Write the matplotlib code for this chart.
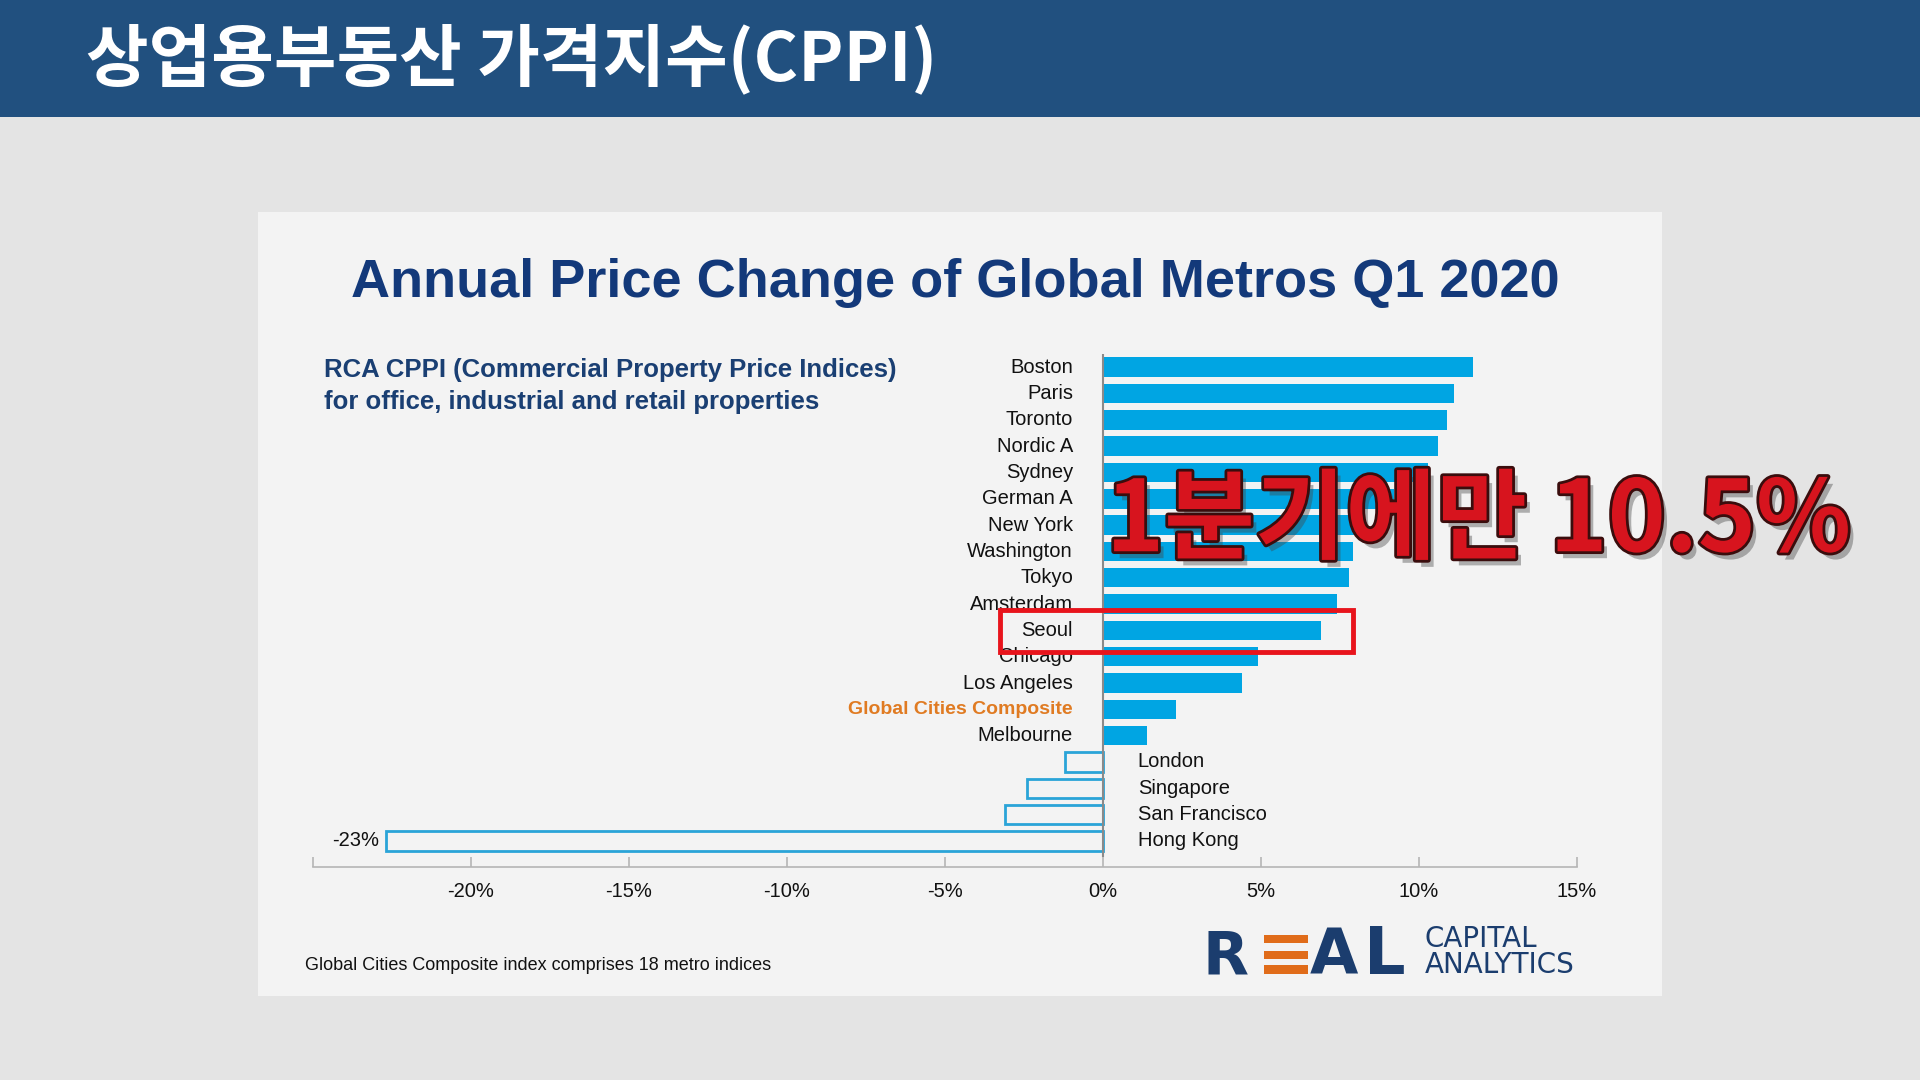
import matplotlib
matplotlib.use('Agg')
import matplotlib.pyplot as plt
import matplotlib.patheffects as pe
from matplotlib.patches import Rectangle
import numpy as np

# ---------------- data ----------------
cities = ["Boston", "Paris", "Toronto", "Nordic A", "Sydney", "German A", "New York",
          "Washington", "Tokyo", "Amsterdam", "Seoul", "Chicago", "Los Angeles",
          "Global Cities Composite", "Melbourne", "London", "Singapore",
          "San Francisco", "Hong Kong"]
changes = [11.7, 11.1, 10.9, 10.6, 10.3, 9.2, 8.3, 7.9, 7.8, 7.4, 6.9, 4.9, 4.4,
           2.3, 1.4, -1.2, -2.4, -3.1, -22.7]
x_ticks = [-25, -20, -15, -10, -5, 0, 5, 10, 15]
x_tick_labels = ["", "-20%", "-15%", "-10%", "-5%", "0%", "5%", "10%", "15%"]
header_title = "상업용부동산 가격지수(CPPI)"
chart_title = "Annual Price Change of Global Metros Q1 2020"
subtitle_lines = ["RCA CPPI (Commercial Property Price Indices)",
                  "for office, industrial and retail properties"]
footnote = "Global Cities Composite index comprises 18 metro indices"
overlay_text = "1분기에만 10.5%"
highlight_city = "Seoul"
composite_city = "Global Cities Composite"

# ---------------- style ----------------
W, H = 1920, 1080
NARROW = ['Liberation Sans Narrow', 'Liberation Sans', 'DejaVu Sans']
ARIAL = ['Liberation Sans', 'DejaVu Sans']
KR = ['Noto Sans CJK KR', 'DejaVu Sans']
BAR_BLUE = '#00a5e3'
OUTLINE_BLUE = '#2aa4d8'
NAVY = '#13397a'
ORANGE = '#e07b22'
PANEL = '#f3f3f3'

fig = plt.figure(figsize=(19.2, 10.8), dpi=100)
fig.patch.set_facecolor('#e4e4e4')

def fx(x):
    return x / W

def fy(y):
    return 1 - y / H

# header band
fig.add_artist(Rectangle((0, fy(117)), 1, 117 / H, transform=fig.transFigure,
                         facecolor='#21507f', edgecolor='none', zorder=0))
fig.text(fx(86), fy(60), header_title, color='white', fontsize=49,
         fontweight='heavy', family=KR, va='center', ha='left')

# panel
fig.add_artist(Rectangle((fx(258), fy(996)), (1662 - 258) / W, (996 - 212) / H,
                         transform=fig.transFigure, facecolor=PANEL,
                         edgecolor='none', zorder=0))

fig.text(fx(955), fy(283), chart_title, color=NAVY, fontsize=39,
         fontweight='bold', family=ARIAL, ha='center', va='center')
fig.text(fx(324), fy(370), subtitle_lines[0], color='#1a3f73', fontsize=18.5,
         fontweight='bold', family=NARROW, ha='left', va='center')
fig.text(fx(324), fy(402), subtitle_lines[1], color='#1a3f73', fontsize=18.5,
         fontweight='bold', family=NARROW, ha='left', va='center')
fig.text(fx(305), fy(965), footnote, color='#111111', fontsize=13,
         family=NARROW, ha='left', va='center')

# ---------------- chart ----------------
ax = fig.add_axes([fx(313), fy(867), (1577 - 313) / W, (867 - 354) / H])
ax.patch.set_visible(False)
ax.set_xlim(-25, 15)
ax.set_ylim(18.99, -0.5)

vals = np.array(changes)
ys = np.arange(len(cities))
pos = vals >= 0
neg = ~pos
ax.barh(ys[pos], vals[pos], height=0.74, color=BAR_BLUE, zorder=2)
ax.barh(ys[neg], vals[neg], height=0.74, facecolor=PANEL,
        edgecolor=OUTLINE_BLUE, linewidth=2, zorder=2)
ax.vlines(0, -0.65, 18.6, color='#8a8a8a', lw=1.5, zorder=3)

LABEL_FS = 14.5
for i, (c, v) in enumerate(zip(cities, changes)):
    if v >= 0:
        is_comp = (c == composite_city)
        ax.text(-0.95, i, c, ha='right', va='center',
                fontsize=LABEL_FS - 0.5 if is_comp else LABEL_FS,
                family=NARROW, color=ORANGE if is_comp else '#111111',
                fontweight='bold' if is_comp else 'normal')
    else:
        ax.text(1.1, i, c, ha='left', va='center', fontsize=LABEL_FS,
                family=NARROW, color='#111111')

min_i = int(np.argmin(vals))
ax.text(vals[min_i] - 0.2, min_i, f"{vals[min_i]:.0f}%", ha='right', va='center',
        fontsize=LABEL_FS, family=NARROW, color='#111111')

for s in ['left', 'right', 'top']:
    ax.spines[s].set_visible(False)
ax.spines['bottom'].set_color('#b5b5b5')
ax.spines['bottom'].set_linewidth(1.2)
ax.set_yticks([])
ax.set_xticks(x_ticks)
ax.set_xticklabels(x_tick_labels, family=NARROW, fontsize=14.5, color='#111111')
ax.tick_params(axis='x', direction='in', length=7, color='#b5b5b5', width=1.2, pad=11)

# highlight box around Seoul
si = cities.index(highlight_city)
ax.add_patch(Rectangle((-3.26, si - 0.76), 11.17, 1.6, fill=False,
                       edgecolor='#e8141c', linewidth=3.5, clip_on=False, zorder=5))

# overlay caption
fig.text(fx(1106), fy(522), overlay_text, color='#d7141e', fontsize=71,
         fontweight='black', family=KR, ha='left', va='center', zorder=10,
         path_effects=[pe.SimplePatchShadow(offset=(4, -5), shadow_rgbFace='#444444', alpha=0.4),
                       pe.Stroke(linewidth=4, foreground='#3a0d0d'),
                       pe.Normal()])

# ---------------- logo ----------------
LOGO = '#1b3d6e'
LOGO_ORANGE = '#e06c1a'
logo_font = ['DejaVu Sans']
fig.text(fx(1202), fy(974), "R", color=LOGO, fontsize=43, fontweight='bold',
         family=logo_font, ha='left', va='baseline')
for (y0, y1) in [(935, 943), (951, 959), (965, 974)]:
    fig.add_artist(Rectangle((fx(1264), fy(y1)), (1308 - 1264) / W, (y1 - y0) / H,
                             transform=fig.transFigure, facecolor=LOGO_ORANGE,
                             edgecolor='none'))
fig.text(fx(1310), fy(974), "A", color=LOGO, fontsize=45, fontweight='bold',
         family=logo_font, ha='left', va='baseline')
fig.text(fx(1364), fy(974), "L", color=LOGO, fontsize=47, fontweight='bold',
         family=logo_font, ha='left', va='baseline')
fig.text(fx(1425), fy(979), "CAPITAL\nANALYTICS", color=LOGO, fontsize=20,
         family=logo_font, ha='left', va='bottom', linespacing=0.92)

fig.savefig('out.png', dpi=100, facecolor=fig.get_facecolor())
